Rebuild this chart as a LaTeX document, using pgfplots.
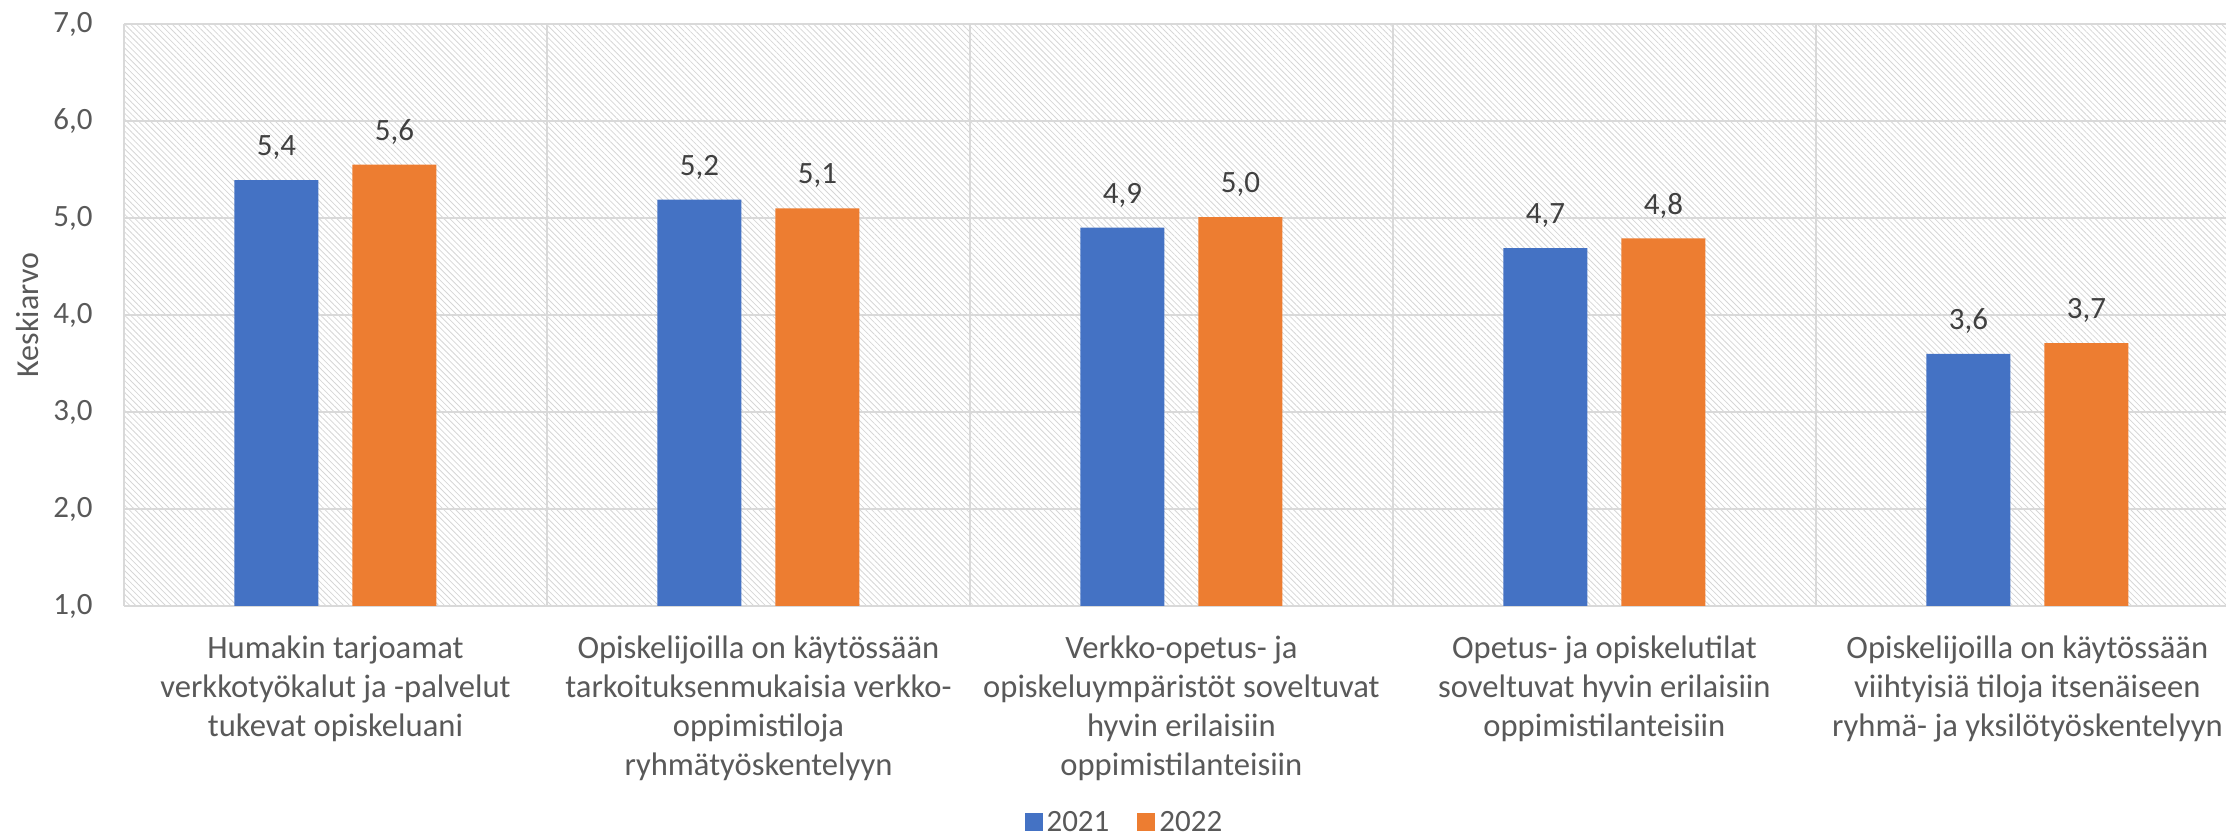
\documentclass[border=0pt]{standalone}
\usepackage{fontspec}
\setmainfont{Carlito}
\usepackage{pgfplots}
\pgfplotsset{compat=1.18}
\usetikzlibrary{patterns.meta}
\definecolor{cblue}{HTML}{4472C4}
\definecolor{corange}{HTML}{ED7D31}
\definecolor{gridc}{HTML}{D9D9D9}
\definecolor{txt}{HTML}{595959}
\definecolor{lbl}{HTML}{404040}
\begin{document}
\begin{tikzpicture}
\useasboundingbox (-62pt,-116pt) rectangle (1051pt,303pt);
\begin{axis}[
 at={(0,0)}, anchor=south west,
 scale only axis, width=1057.5pt, height=291pt,
 xmin=-0.5, xmax=4.5, ymin=1, ymax=7,
 ybar, bar width=42pt,
 axis line style={draw=none},
 major tick length=0pt, minor tick length=0pt,
 ytick={1,...,7},
 ymajorgrids, xminorgrids,
 grid style={gridc, line width=0.8pt},
 minor grid style={gridc, line width=0.8pt},
 xtick={0,...,4},
 minor xtick={-0.5,0.5,1.5,2.5,3.5,4.5},
 /pgf/number format/.cd, use comma, fixed, fixed zerofill, precision=1, assume math mode=true,
 /pgfplots/.cd,
 axis background/.style={pattern={Lines[angle=-45,distance=2.1pt,line width=0.4pt]}, pattern color=black!16},
 yticklabel style={font=\fontsize{15.5}{18}\selectfont, text=txt, inner sep=0pt, xshift=-15.5pt},
 xticklabels={{Humakin tarjoamat\\verkkotyökalut ja -palvelut\\tukevat opiskeluani},
   {Opiskelijoilla on käytössään\\tarkoituksenmukaisia verkko-\\oppimistiloja\\ryhmätyöskentelyyn},
   {Verkko-opetus- ja\\opiskeluympäristöt soveltuvat\\hyvin erilaisiin\\oppimistilanteisiin},
   {Opetus- ja opiskelutilat\\soveltuvat hyvin erilaisiin\\oppimistilanteisiin},
   {Opiskelijoilla on käytössään\\viihtyisiä tiloja itsenäiseen\\ryhmä- ja yksilötyöskentelyyn}},
 xticklabel style={align=center, font=\fontsize{16.3}{19.5}\selectfont, text=txt, inner sep=0pt, anchor=north, yshift=-14.8pt},
 ylabel={Keskiarvo},
 ylabel style={at={(axis description cs:-0.0454,0.5)}, anchor=center, font=\fontsize{16}{18}\selectfont, text=txt},
 nodes near coords,
 every node near coord/.append style={font=\fontsize{15.5}{18}\selectfont, text=lbl, inner sep=0pt, yshift=10pt},
 legend style={at={(axis description cs:0.4735,-0.372)}, anchor=center, draw=none, fill=none,
   font=\fontsize{15.5}{18}\selectfont, text=txt, inner sep=1pt,
   /tikz/every even column/.append style={column sep=12pt}},
 legend columns=2,
 legend image code/.code={\fill[#1] (0pt,-4.5pt) rectangle (9pt,4.5pt);},
]
\addplot[fill=cblue, draw=none, bar shift=-29.5pt] coordinates {(0,5.39) (1,5.19) (2,4.90) (3,4.69) (4,3.60)};
\addplot[fill=corange, draw=none, bar shift=29.5pt] coordinates {(0,5.55) (1,5.10) (2,5.01) (3,4.79) (4,3.71)};
\legend{2021,2022}
\end{axis}
\end{tikzpicture}
\end{document}
